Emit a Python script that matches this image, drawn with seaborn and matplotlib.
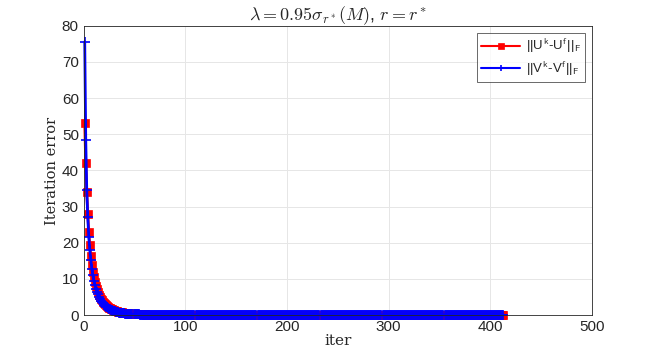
import numpy as np
import pandas as pd
import matplotlib
matplotlib.use("Agg")
import matplotlib.pyplot as plt
import seaborn as sns

# Data (iteration errors)
u_head = [53, 42, 34, 28, 23, 19.3, 16.3, 13.9, 12.0, 10.4, 9.1, 8.0, 7.1, 6.3, 5.6,
          5.0, 4.5, 4.05, 3.65, 3.3, 3.0, 2.72, 2.48, 2.26, 2.06, 1.89, 1.73, 1.59,
          1.46, 1.35, 1.24, 1.15, 1.06, 0.98, 0.91, 0.85, 0.79, 0.73, 0.68, 0.64, 0.6,
          0.56, 0.52, 0.49, 0.46, 0.43, 0.41, 0.38, 0.36, 0.34, 0.32, 0.3, 0.29, 0.27,
          0.26, 0.24, 0.23, 0.22, 0.21, 0.2]
v_head = [75.6, 48.5, 34.5, 27, 21.5, 18, 15.2, 12.8, 11.0, 9.5, 8.3, 7.3, 6.4, 5.7, 5.0,
          4.5, 4.0, 3.6, 3.2, 2.9, 2.6, 2.35, 2.12, 1.92, 1.74, 1.58, 1.44, 1.31, 1.19,
          1.09, 0.99, 0.91, 0.83, 0.76, 0.7, 0.64, 0.59, 0.54, 0.5, 0.46, 0.42, 0.39,
          0.36, 0.33, 0.31, 0.28, 0.26, 0.24, 0.22, 0.21, 0.19, 0.18, 0.17, 0.16, 0.15,
          0.14, 0.13, 0.12, 0.11, 0.1]
n_iter = 413
u_tail_value = 0.15
v_tail_value = 0.05

u_err = u_head + [u_tail_value] * (n_iter - len(u_head))
v_err = v_head + [v_tail_value] * (n_iter - len(v_head))
iters = list(range(1, n_iter + 1))

x_ticks = [0, 100, 200, 300, 400, 500]
y_ticks = [0, 10, 20, 30, 40, 50, 60, 70, 80]

sns.set_style("white")
plt.rcParams['font.family'] = ['Liberation Sans', 'DejaVu Sans']
plt.rcParams['mathtext.fontset'] = 'cm'

fig = plt.figure(figsize=(6.54, 3.54), dpi=100)
ax = fig.add_axes([0.128, 0.110, 0.777, 0.817])

df = pd.DataFrame({"iter": iters, "U": u_err, "V": v_err})
sns.lineplot(data=df, x="iter", y="U", ax=ax, color="#ff0000", linewidth=2, linestyle="-",
             marker="s", markersize=6, markeredgewidth=0.5, markeredgecolor="#ff0000",
             markerfacecolor="#ff0000", clip_on=False,
             label=r"||U$^{\mathsf{k}}$-U$^{\mathsf{f}}$||$_{\mathsf{F}}$")
sns.lineplot(data=df, x="iter", y="V", ax=ax, color="#0000ff", linewidth=2, linestyle="-",
             marker="+", markersize=7, markeredgewidth=1.2, markeredgecolor="#0000ff",
             clip_on=False,
             label=r"||V$^{\mathsf{k}}$-V$^{\mathsf{f}}$||$_{\mathsf{F}}$")

ax.set_xlim(0, 500)
ax.set_ylim(0, 80)
ax.set_xticks(x_ticks)
ax.set_yticks(y_ticks)
ax.tick_params(direction="in", length=3, labelsize=11, colors="#262626", width=0.6)
ax.grid(True, color="#e6e6e6", lw=0.7)
for s in ax.spines.values():
    s.set_visible(True)
    s.set_color("#262626")
    s.set_linewidth(0.6)

ax.set_xlabel("iter", family="serif", fontsize=11, labelpad=0)
ax.set_ylabel("Iteration error", family="serif", fontsize=10.5, labelpad=2)
ax.set_title(r"$\lambda = 0.95\sigma_{r^*}(M)$, $r = r^*$", fontsize=13, pad=4)

leg = ax.legend(loc="upper right", fontsize=9.5, frameon=True, fancybox=False,
                edgecolor="#262626", handlelength=3.0, borderpad=0.3, labelspacing=0.3,
                borderaxespad=0.55, handletextpad=0.4)
leg.get_frame().set_linewidth(0.6)
for h in leg.legend_handles:
    h.set_markersize(4)
    h.set_linewidth(1.5)

fig.savefig("out.png", dpi=100)
